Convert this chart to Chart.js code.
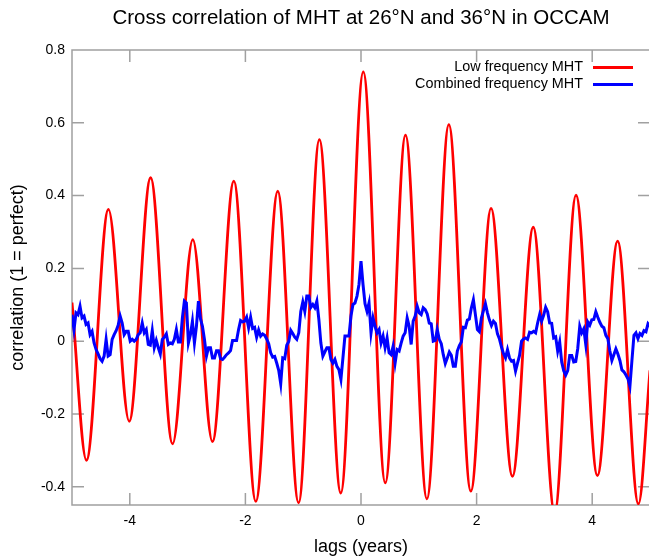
<!DOCTYPE html>
<html><head><meta charset="utf-8">
<script src="https://cdn.jsdelivr.net/npm/chart.js@4.4.1/dist/chart.umd.min.js"></script>
<style>html,body{margin:0;padding:0;overflow:hidden;background:#fff}canvas{display:block}</style>
</head><body>
<canvas id="c" width="651" height="558"></canvas>
<script>
const chartTitle = 'Cross correlation of MHT at 26°N and 36°N in OCCAM';
const xAxisTitle = 'lags (years)';
const yAxisTitle = 'correlation (1 = perfect)';
const seriesNames = ['Low frequency MHT', 'Combined frequency MHT'];
const xTickValues = [-4, -2, 0, 2, 4];
const xTickLabels = ['-4', '-2', '0', '2', '4'];
const yTickValues = [-0.4, -0.2, 0, 0.2, 0.4, 0.6, 0.8];
const yTickLabels = ['-0.4', '-0.2', '0', '0.2', '0.4', '0.6', '0.8'];

// Low frequency MHT: readings at extremes (lag in years, correlation)
const lowFreqLags = [-5.0, -4.75, -4.37, -4.01, -3.64, -3.26, -2.91, -2.57, -2.20, -1.82, -1.44, -1.08, -0.72, -0.35, 0.04, 0.42, 0.77, 1.14, 1.52, 1.90, 2.25, 2.62, 2.98, 3.35, 3.72, 4.09, 4.44, 4.80, 5.0];
const lowFreqValues = [0.106, -0.327, 0.362, -0.220, 0.449, -0.282, 0.279, -0.276, 0.440, -0.440, 0.412, -0.444, 0.554, -0.417, 0.740, -0.389, 0.566, -0.433, 0.595, -0.412, 0.365, -0.371, 0.313, -0.470, 0.401, -0.369, 0.275, -0.447, -0.080];

// Combined frequency MHT: evenly spaced lags from -5 to 5
const combinedLagFirst = -5;
const combinedLagLast = 5;
const combinedValues = [
 0.073,0.032,0.078,0.073,0.096,0.064,0.069,0.046,0.050,0.018,
 0.027,-0.005,-0.023,-0.035,-0.048,-0.055,-0.041,0.005,-0.041,-0.037,
 0.005,0.018,0.029,0.044,0.069,0.050,0.018,0.027,0.027,0,
 0.005,0,0.005,0.018,0.023,0.050,0.023,0.032,-0.009,-0.011,
 0.029,-0.018,0.002,-0.018,-0.035,0.005,0.011,0.020,-0.009,-0.005,
 -0.007,0.005,0.032,-0.002,-0.002,0.064,0.110,0.105,
 -0.005,0.018,0.055,-0.005,0.041,0.110,0.062,0.041,0.005,-0.041,
 -0.018,-0.018,-0.046,-0.046,-0.026,-0.026,-0.048,-0.050,-0.044,-0.037,
 -0.032,-0.026,0.002,0.002,0.002,0.032,0.057,0.053,0.055,0.066,
 0.037,0.066,0.035,0.038,0.011,0.031,0.014,0.020,0.016,0.006,
 -0.007,-0.032,-0.044,-0.042,-0.060,-0.080,-0.117,-0.046,-0.048,-0.011,
 -0.001,0.030,0.021,0.011,0.005,0.023,0.082,0.108,
 0.082,0.124,0.124,0.093,0.101,0.092,0.110,0.060,-0.005,-0.041,
 -0.029,-0.018,-0.018,-0.050,-0.060,-0.050,-0.069,-0.078,-0.105,-0.046,
 0.014,0.014,0.014,0.069,0.101,0.105,0.124,0.156,0.220,0.156,
 0.103,0.082,0.105,0.023,0.064,0.041,0.023,0.032,-0.005,0.014,
 -0.018,0.009,-0.032,-0.037,-0.014,-0.060,-0.023,-0.027,-0.005,0.014,
 0.023,0.064,0.041,-0.009,0.055,0.069,0.096,
 0.078,0.073,0.092,0.087,0.075,0.050,0.048,0,0.002,0.032,
 0.005,-0.007,-0.037,-0.061,-0.046,-0.030,-0.039,-0.069,-0.069,-0.027,
 -0.012,-0.002,0.038,0.037,0.058,0.061,0.092,0.114,0.073,0.032,
 0.026,0.064,0.084,0.103,0.078,0.058,0.043,0.055,0.049,0.020,
 0.006,-0.016,-0.034,-0.046,-0.023,-0.046,-0.055,-0.053,-0.082,-0.060,
 -0.039,0,0.006,0.009,0.005,0.025,0.023,0.027,
 0.023,0.050,0.073,0.055,0.071,0.093,0.081,0.050,0.049,0.009,
 0.012,-0.027,-0.002,-0.057,-0.081,-0.093,-0.081,-0.039,-0.039,-0.057,
 -0.056,-0.020,0.041,0.023,0.034,-0.009,0.053,0.044,0.059,0.060,
 0.081,0.066,0.052,0.041,0.037,0.016,0.007,-0.027,-0.053,-0.037,
 -0.021,-0.035,-0.053,-0.079,-0.084,-0.093,-0.103,-0.124,-0.053,0.016,
 0.023,0.007,0.021,0.016,0.029,0.026,0.048,0.041
];

const FONT = '"Liberation Sans", Arial, sans-serif';
const lowFreqData = lowFreqLags.map((lag, i) => ({x: lag, y: lowFreqValues[i]}));
const combinedStep = (combinedLagLast - combinedLagFirst) / (combinedValues.length - 1);
const combinedData = combinedValues.map((v, i) => ({x: combinedLagFirst + i * combinedStep, y: v}));

const framePlugin = {
  id: 'frame',
  beforeDatasetsDraw(chart) {
    const {ctx, chartArea: a, scales: {x, y}} = chart;
    ctx.save();
    ctx.strokeStyle = '#a0a0a0';
    ctx.lineWidth = 1.5;
    ctx.beginPath();
    ctx.rect(a.left, a.top, a.right - a.left, a.bottom - a.top);
    const L = 12;
    x.ticks.forEach(t => {
      const px = x.getPixelForValue(t.value);
      ctx.moveTo(px, a.bottom); ctx.lineTo(px, a.bottom - L);
      ctx.moveTo(px, a.top); ctx.lineTo(px, a.top + L);
    });
    y.ticks.forEach(t => {
      const py = y.getPixelForValue(t.value);
      ctx.moveTo(a.left, py); ctx.lineTo(a.left + L, py);
      ctx.moveTo(a.right, py); ctx.lineTo(a.right - L, py);
    });
    ctx.stroke();
    ctx.restore();
  }
};

const titlePlugin = {
  id: 'plotTitle',
  afterDraw(chart) {
    const {ctx, chartArea: a} = chart;
    ctx.save();
    ctx.font = '20.5px ' + FONT;
    ctx.fillStyle = '#000';
    ctx.textAlign = 'center';
    ctx.textBaseline = 'middle';
    ctx.fillText(chartTitle, (a.left + a.right) / 2, 18);
    ctx.restore();
  }
};

const legendPlugin = {
  id: 'customLegend',
  afterDraw(chart) {
    const {ctx, chartArea: a} = chart;
    const colors = ['#ff0000', '#0000ff'];
    ctx.save();
    ctx.font = '14.4px ' + FONT;
    ctx.textAlign = 'right';
    ctx.textBaseline = 'middle';
    seriesNames.forEach((name, i) => {
      const yy = a.top + 17.5 + i * 17;
      ctx.fillStyle = '#000';
      ctx.fillText(name, a.right - 67, yy);
      ctx.strokeStyle = colors[i];
      ctx.lineWidth = 3;
      ctx.beginPath();
      ctx.moveTo(a.right - 57, yy);
      ctx.lineTo(a.right - 17, yy);
      ctx.stroke();
    });
    ctx.restore();
  }
};

new Chart(document.getElementById('c'), {
  type: 'line',
  data: {
    datasets: [
      {label: seriesNames[0], data: lowFreqData, borderColor: '#ff0000', borderWidth: 2.8,
       pointRadius: 0, cubicInterpolationMode: 'monotone', clip: 0, order: 1},
      {label: seriesNames[1], data: combinedData, borderColor: '#0000ff', borderWidth: 3,
       pointRadius: 0, tension: 0, clip: 0, order: 0}
    ]
  },
  options: {
    responsive: false,
    animation: false,
    events: [],
    layout: {padding: {left: 0, right: 1, top: 50, bottom: 0}},
    plugins: {
      legend: {display: false},
      tooltip: {enabled: false},
      title: {display: false}
    },
    scales: {
      x: {
        type: 'linear', min: -5, max: 5,
        afterBuildTicks: s => { s.ticks = xTickValues.map(v => ({value: v})); },
        afterFit: s => { s.height = 53; },
        grid: {display: false, drawTicks: false},
        border: {display: false},
        ticks: {color: '#000', font: {family: FONT, size: 14}, padding: 8,
          maxRotation: 0, autoSkip: false,
          callback: (v) => xTickLabels[xTickValues.indexOf(v)] ?? ''},
        title: {display: true, text: xAxisTitle, color: '#000',
          font: {family: FONT, size: 18}, padding: {top: 0, bottom: 0}}
      },
      y: {
        type: 'linear', min: -0.45, max: 0.8,
        afterBuildTicks: s => { s.ticks = yTickValues.map(v => ({value: v})); },
        afterFit: s => { s.width = 72; },
        grid: {display: false, drawTicks: false},
        border: {display: false},
        ticks: {color: '#000', font: {family: FONT, size: 14}, padding: 7,
          autoSkip: false,
          callback: (v) => { const k = yTickValues.findIndex(t => Math.abs(t - v) < 1e-9); return k >= 0 ? yTickLabels[k] : ''; }},
        title: {display: true, text: yAxisTitle, color: '#000',
          font: {family: FONT, size: 18}, padding: {top: 7, bottom: 0}}
      }
    }
  },
  plugins: [framePlugin, titlePlugin, legendPlugin]
});
</script>
</body></html>
